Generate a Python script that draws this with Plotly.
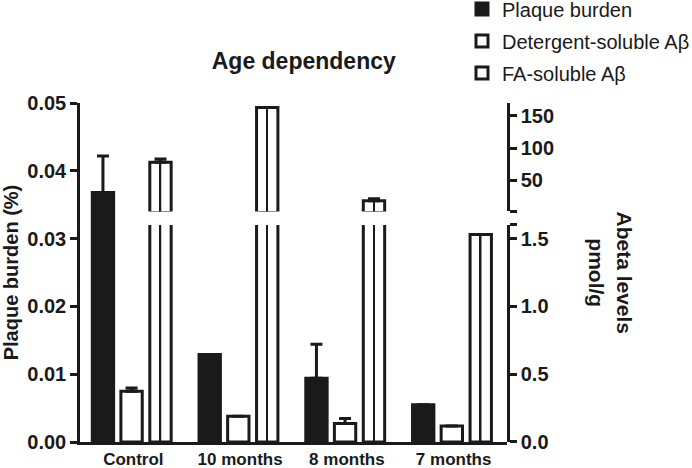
import plotly.graph_objects as go

categories = ["Control", "10 months", "8 months", "7 months"]

plaque_burden = [0.0368, 0.0129, 0.0094, 0.0055]
plaque_err = [0.0054, 0, 0.0050, 0]

detergent_soluble = [0.374, 0.19, 0.136, 0.118]
detergent_err = [0.025, 0, 0.037, 0]

fa_soluble = [78, 163, 18.3, 1.53]
fa_err = [5, 0, 3, 0]

left_ticks = [0, 0.01, 0.02, 0.03, 0.04, 0.05]
left_ticktext = ["0.00", "0.01", "0.02", "0.03", "0.04", "0.05"]
lower_ticks = [0, 0.5, 1.0, 1.5, 1.6]
lower_ticktext = ["0.0", "0.5", "1.0", "1.5", ""]
upper_ticks = [1.6, 50, 100, 150]
upper_ticktext = ["", "50", "100", "150"]

BREAK = 1.6
FONT = "Liberation Sans, Arial, Helvetica, sans-serif"
BW = 0.2
LW = 3
INK = "#1a1a1a"

fig = go.Figure()

fig.add_trace(go.Bar(
    x=categories, y=plaque_burden, name="Plaque burden",
    yaxis="y", offset=-0.385, width=BW,
    marker=dict(color=INK, line=dict(color=INK, width=LW)),
    error_y=dict(type="data", array=plaque_err, arrayminus=[0] * 4, symmetric=False,
                 color=INK, thickness=3, width=6),
    legendgroup="a",
))

fig.add_trace(go.Bar(
    x=categories, y=detergent_soluble, name="Detergent-soluble Aβ",
    yaxis="y2", offset=-0.117, width=BW,
    marker=dict(color="white", line=dict(color=INK, width=LW)),
    error_y=dict(type="data", array=detergent_err, arrayminus=[0] * 4, symmetric=False,
                 color=INK, thickness=3, width=6),
    legendgroup="b",
))

# FA-soluble: lower segment of the broken axis
fig.add_trace(go.Bar(
    x=categories, y=fa_soluble, name="FA-soluble Aβ",
    yaxis="y2", offset=0.154, width=BW,
    marker=dict(color="white", line=dict(color=INK, width=LW)),
    legendgroup="c",
))
fig.add_trace(go.Bar(
    x=categories, y=fa_soluble, showlegend=False, hoverinfo="skip",
    yaxis="y2", offset=0.247, width=0.014,
    marker=dict(color=INK, line=dict(width=0)),
    legendgroup="c",
))

# FA-soluble: upper segment of the broken axis
fa_upper = [v if v > BREAK else None for v in fa_soluble]
fig.add_trace(go.Bar(
    x=categories, y=fa_upper, name="FA-soluble Aβ", showlegend=False,
    yaxis="y3", offset=0.154, width=BW,
    marker=dict(color="white", line=dict(color=INK, width=LW)),
    error_y=dict(type="data", array=fa_err, arrayminus=[0] * 4, symmetric=False,
                 color=INK, thickness=3, width=6),
    legendgroup="c",
))
fig.add_trace(go.Bar(
    x=categories, y=fa_upper, showlegend=False, hoverinfo="skip",
    yaxis="y3", offset=0.247, width=0.014,
    marker=dict(color=INK, line=dict(width=0)),
    legendgroup="c",
))

axis_common = dict(
    showline=True, linecolor=INK, linewidth=2.5,
    ticks="outside", ticklen=7, tickwidth=2.5, tickcolor=INK,
    showgrid=False, zeroline=False, automargin=False,
    tickfont=dict(family=FONT, size=20, color=INK, weight="bold"),
)

lower_top = BREAK * 135.4 / 338.4

fig.update_layout(
    width=692, height=468,
    margin=dict(l=80, r=185, t=103, b=26, autoexpand=False),
    paper_bgcolor="white", plot_bgcolor="rgba(0,0,0,0)",
    barmode="overlay",
    showlegend=True,
    title=dict(text="<b>Age dependency</b>", xref="paper", x=0.524, xanchor="center",
               yref="container", y=1 - 61 / 468, yanchor="middle",
               font=dict(family=FONT, size=23, color=INK)),
    xaxis=dict(
        categoryorder="array", categoryarray=categories,
        showline=True, linecolor=INK, linewidth=2.5, ticks="",
        showgrid=False, zeroline=False, automargin=False,
        tickfont=dict(family=FONT, size=17, color=INK, weight="bold"),
        anchor="y",
    ),
    yaxis=dict(
        range=[0, 0.05], tickvals=left_ticks, ticktext=left_ticktext,
        title=dict(text="<b>Plaque burden (%)</b>", standoff=6,
                   font=dict(family=FONT, size=20, color=INK)),
        domain=[0, 1], **axis_common,
    ),
    yaxis2=dict(
        range=[0, BREAK], tickvals=lower_ticks, ticktext=lower_ticktext,
        domain=[0, lower_top], anchor="x", side="right", **axis_common,
    ),
    yaxis3=dict(
        range=[BREAK, 170], tickvals=upper_ticks, ticktext=upper_ticktext,
        domain=[0.68, 1], anchor="x", side="right", **axis_common,
    ),
    legend=dict(
        x=0.8946, xanchor="left", y=1.3346, yanchor="top",
        font=dict(family=FONT, size=20, color=INK),
        tracegroupgap=3, bgcolor="rgba(0,0,0,0)",
        itemclick=False, itemdoubleclick=False,
    ),
    annotations=[dict(
        text="<b>Abeta levels<br>pmol/g</b>", textangle=90,
        xref="paper", yref="paper", x=1.2436, y=0.5,
        xanchor="center", yanchor="middle", showarrow=False,
        font=dict(family=FONT, size=21, color=INK),
    )],
)

fig.write_html("out.html", config={"displayModeBar": False},
               post_script="document.body.style.margin='0';")
